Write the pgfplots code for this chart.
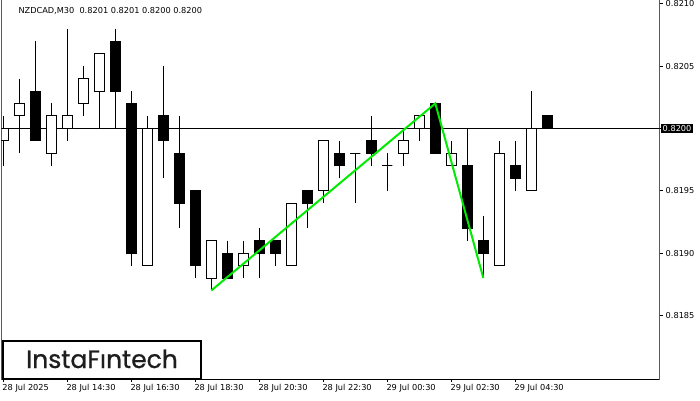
\documentclass[border=0pt]{standalone}
\usepackage{pgfplots}
\pgfplotsset{compat=1.18}
\usepackage{pgfplotstable}
\usepgfplotslibrary{statistics}
\usepackage{fontspec}
\setmainfont{DejaVu Sans}
\newfontfamily\logofont[FakeBold=0.8]{Poppins}
\definecolor{patgreen}{RGB}{0,235,0}

% x = candle index (30-minute bars), low, body low, body high, high, up (1 = bullish/white)
\pgfplotstableread{
x low blo bhi high up
0 0.8197 0.8199 0.8200 0.8201 1
1 0.8198 0.8201 0.8202 0.8204 1
2 0.8199 0.8199 0.8203 0.8207 0
3 0.8197 0.8198 0.8201 0.8202 1
4 0.8199 0.8200 0.8201 0.8208 1
5 0.8201 0.8202 0.8204 0.8205 1
6 0.8200 0.8203 0.8206 0.8206 1
7 0.8200 0.8203 0.8207 0.8208 0
8 0.8189 0.8190 0.8202 0.8203 0
9 0.8189 0.8189 0.8200 0.8201 1
10 0.8196 0.8199 0.8201 0.8205 0
11 0.8192 0.8194 0.8198 0.8201 0
12 0.8188 0.8189 0.8195 0.8195 0
13 0.8187 0.8188 0.8191 0.8191 1
14 0.8188 0.8188 0.8190 0.8191 0
15 0.8188 0.8189 0.8190 0.8191 1
16 0.8188 0.8190 0.8191 0.8192 0
17 0.8189 0.8190 0.8191 0.8191 0
18 0.8189 0.8189 0.8194 0.8194 1
19 0.8192 0.8194 0.8195 0.8195 0
20 0.8194 0.8195 0.8199 0.8199 1
21 0.8196 0.8197 0.8198 0.8199 0
22 0.8194 0.8198 0.8198 0.8198 1
23 0.8197 0.8198 0.8199 0.8201 0
24 0.8195 0.8197 0.8197 0.8198 1
25 0.8197 0.8198 0.8199 0.8200 1
26 0.8199 0.8200 0.8201 0.8201 1
27 0.8198 0.8198 0.8202 0.8202 0
28 0.8197 0.8197 0.8198 0.8199 1
29 0.8191 0.8192 0.8197 0.8200 0
30 0.8188 0.8190 0.8191 0.8193 0
31 0.8189 0.8189 0.8198 0.8199 1
32 0.8195 0.8196 0.8197 0.8199 0
33 0.8195 0.8195 0.8200 0.8203 1
34 0.8200 0.8200 0.8201 0.8201 0
}\candles

\pgfplotstableread{
x y
13 0.8187
27 0.8202
30 0.8188
}\patterndata

\pgfplotstableread{
x y
-1 0.8200
42 0.8200
}\pricedata

% plotted y = (price - 0.8180) * 10000, i.e. in pips above 0.8180
\newcommand{\pp}[1]{\fpeval{(#1-0.818)*10000}}

\pgfplotsset{
  bullc/.style={draw=black, fill=white, line width=1pt},
  bearc/.style={draw=black, fill=black, line width=1pt},
}

% build the candle plots from the table
\gdef\candleplots{}
\foreach \i in {0,...,34}{%
  \pgfplotstablegetelem{\i}{low}\of\candles \global\let\cL\pgfplotsretval
  \pgfplotstablegetelem{\i}{blo}\of\candles \global\let\cBL\pgfplotsretval
  \pgfplotstablegetelem{\i}{bhi}\of\candles \global\let\cBH\pgfplotsretval
  \pgfplotstablegetelem{\i}{high}\of\candles \global\let\cH\pgfplotsretval
  \pgfplotstablegetelem{\i}{up}\of\candles \global\let\cU\pgfplotsretval
  \xdef\candleplots{\unexpanded\expandafter{\candleplots}%
    \noexpand\addplot[\ifnum\cU=1 bullc\else bearc\fi,
      boxplot prepared={draw position=\i, draw direction=y,
        lower whisker=\pp{\cL}, lower quartile=\pp{\cBL}, median=\pp{\cBL},
        upper quartile=\pp{\cBH}, upper whisker=\pp{\cH}}] coordinates {};}%
}

\begin{document}
\begin{tikzpicture}
\path[use as bounding box] (0,0) rectangle (700pt,400pt);
\begin{axis}[
  at={(1.5pt,21pt)}, anchor=south west,
  scale only axis, width=658pt, height=379pt,
  xmin=-0.1125, xmax=41.01,
  ymin=-0.1, ymax=30.3,
  axis line style={draw=none},
  tick align=outside, major tick length=3pt,
  every tick/.style={black, line width=1pt},
  xtick pos=left, ytick pos=right, yticklabel pos=right,
  xtick={0,4,...,32},
  xticklabels={28 Jul 2025,28 Jul 14:30,28 Jul 16:30,28 Jul 18:30,28 Jul 20:30,28 Jul 22:30,29 Jul 00:30,29 Jul 02:30,29 Jul 04:30},
  ytick={5,10,15,25,30},
  yticklabels={0.8185,0.8190,0.8195,0.8205,0.8210},
  extra y ticks={20},
  extra y tick labels={0.8200},
  extra y tick style={yticklabel style={fill=black, text=white, inner xsep=1.5pt, inner ysep=1pt, xshift=-4.5pt}},
  ticklabel style={font=\fontsize{8.2}{9}\selectfont, text=black},
  yticklabel style={anchor=west, inner sep=0pt, xshift=3pt},
  xticklabel style={anchor=north west, inner sep=0pt, xshift=-1pt, yshift=-2.5pt},
  boxplot/draw direction=y,
  boxplot/box extend=0.625,
  boxplot/whisker extend=0,
  clip=true,
]
\addplot[black, line width=1pt, mark=none] table[x=x, y expr=(\thisrow{y}-0.818)*10000] {\pricedata};
\candleplots
\addplot[patgreen, line width=2pt, mark=none] table[x=x, y expr=(\thisrow{y}-0.818)*10000] {\patterndata};
\draw[black, line width=1pt] (rel axis cs:0,1) -- (rel axis cs:0,0) -- (rel axis cs:1,0) -- (rel axis cs:1,1);
\end{axis}
\node[anchor=base west, inner sep=0pt, font=\fontsize{8.2}{9}\selectfont] at (18.3pt,386.7pt) {NZDCAD,M30\ \ 0.8201 0.8201 0.8200 0.8200};
\draw[black, line width=2pt, fill=white] (3pt,21pt) rectangle (201pt,59pt);
\node[anchor=base, inner sep=0pt, font=\logofont\fontsize{25}{25}\selectfont, text={rgb,255:red,30;green,30;blue,30}] at (102pt,32pt) {InstaFıntech};
\end{tikzpicture}
\end{document}
